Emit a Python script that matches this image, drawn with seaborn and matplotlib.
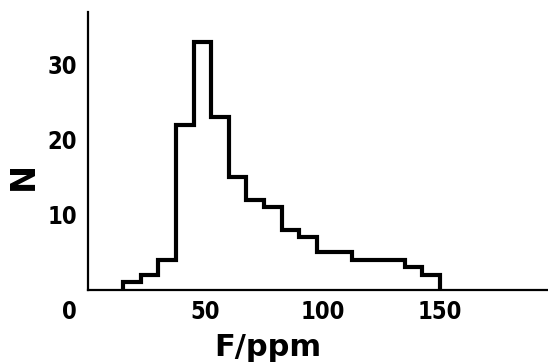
import numpy as np
import pandas as pd
import matplotlib
matplotlib.use("Agg")
import matplotlib.pyplot as plt
import matplotlib.transforms as mtransforms
import seaborn as sns

# Data (bin width 7.5 ppm)
bin_left = [15, 22.5, 30, 37.5, 45, 52.5, 60, 67.5, 75, 82.5, 90, 97.5,
            105, 112.5, 120, 127.5, 135, 142.5]
counts = [1, 2, 4, 22, 33, 23, 15, 12, 11, 8, 7, 5, 5, 4, 4, 4, 3, 2]
bin_width = 7.5
x_ticks = [0, 50, 100, 150]
x_ticklabels = ["0", "50", "100", "150"]
y_ticks = [0, 10, 20, 30]
y_ticklabels = ["", "10", "20", "30"]

sns.set_style("white")
plt.rcParams["font.family"] = ["DejaVu Sans"]

edges = list(bin_left) + [bin_left[-1] + bin_width]
centers = [b + bin_width / 2 for b in bin_left]
df = pd.DataFrame({"F": centers, "N": counts})

fig = plt.figure(figsize=(5.48, 3.64), dpi=100)
ax = fig.add_axes([88 / 548, 74.5 / 364, 460 / 548, 277.5 / 364])

sns.histplot(data=df, x="F", weights="N", bins=edges, element="step",
             fill=False, color="black", linewidth=3.0, ax=ax)

# close the outline down to the baseline at both ends
line = ax.lines[0]
lx, ly = line.get_data()
lx = np.concatenate([[lx[0]], lx, [lx[-1]]])
ly = np.concatenate([[0], ly, [0]])
line.set_data(lx, ly)
line.set_solid_joinstyle("miter")

ax.set_xlim(0, 196)
ax.set_ylim(0, 37)

for side in ["top", "right"]:
    ax.spines[side].set_visible(False)
for side in ["left", "bottom"]:
    ax.spines[side].set_linewidth(1.6)
    ax.spines[side].set_color("black")

tick_font = dict(family="DejaVu Sans", weight="bold", stretch="condensed", size=17)

ax.set_xticks(x_ticks)
ax.set_xticklabels(x_ticklabels, fontdict=tick_font)
ax.set_yticks(y_ticks)
ax.set_yticklabels(y_ticklabels, fontdict=tick_font)
ax.tick_params(axis="x", direction="out", length=5, width=1.6, pad=2.5,
               colors="black")
ax.tick_params(axis="y", direction="out", length=7.5, width=1.6, pad=0.5,
               colors="black")

# shift the "0" label left like the reference
lab0 = ax.get_xticklabels()[0]
lab0.set_transform(lab0.get_transform() +
                   mtransforms.ScaledTranslation(-19 / 100, 0, fig.dpi_scale_trans))

ax.set_xlabel("F/ppm", fontsize=22, fontweight="bold", color="black")
ax.xaxis.set_label_coords(0.39, -0.155)
ax.set_ylabel("N", fontsize=24, fontweight="bold", color="black")
ax.yaxis.set_label_coords(-0.104, 0.41)

fig.savefig("out.png", dpi=100)
